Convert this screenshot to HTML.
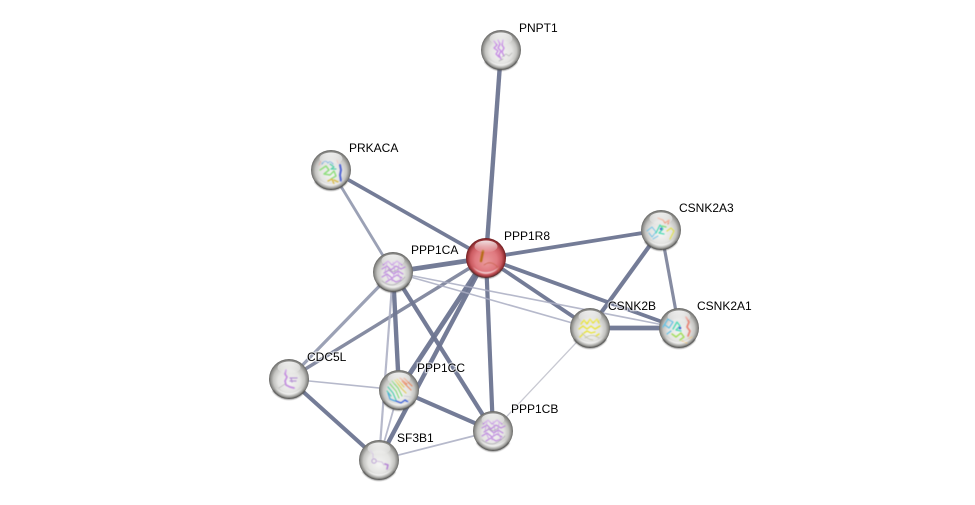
<!DOCTYPE html>
<html>
<head>
<meta charset="utf-8">
<style>
html,body{margin:0;padding:0;background:#fff;width:975px;height:505px;overflow:hidden}
svg{display:block}
text{font-family:"Liberation Sans",sans-serif;font-size:12px;fill:#000;paint-order:stroke;stroke:#fff;stroke-width:2.5px;stroke-opacity:.6}
.s{fill:none;stroke-linecap:round;stroke-linejoin:round}
</style>
</head>
<body>
<svg width="975" height="505" viewBox="0 0 975 505" xmlns="http://www.w3.org/2000/svg">
<defs>
<filter id="soft" x="-10%" y="-10%" width="120%" height="120%"><feGaussianBlur stdDeviation=".35"/></filter>
<filter id="soft2" x="-30%" y="-30%" width="160%" height="160%"><feGaussianBlur stdDeviation=".4"/></filter>
<radialGradient id="g" cx="50%" cy="50%" r="50%" fx="50%" fy="62%">
<stop offset="0" stop-color="#f4f4f3"/>
<stop offset=".55" stop-color="#e4e4e2"/>
<stop offset=".78" stop-color="#c4c4c1"/>
<stop offset=".92" stop-color="#8f8f8c"/>
<stop offset="1" stop-color="#666664"/>
</radialGradient>
<radialGradient id="r" cx="50%" cy="50%" r="50%" fx="50%" fy="62%">
<stop offset="0" stop-color="#ea9a9c"/>
<stop offset=".55" stop-color="#e07a80"/>
<stop offset=".78" stop-color="#cb5b61"/>
<stop offset=".92" stop-color="#9a3438"/>
<stop offset="1" stop-color="#6c1c1f"/>
</radialGradient>
<linearGradient id="h" x1="0" y1="0" x2="0" y2="1">
<stop offset="0" stop-color="#fff" stop-opacity=".85"/>
<stop offset="1" stop-color="#fff" stop-opacity=".03"/>
</linearGradient>
<g id="gloss">
<ellipse cx="0" cy="-11.5" rx="11.5" ry="6" fill="url(#h)"/>
<path d="M-13 9 A15.8 15.8 0 0 0 13 9 A19 19 0 0 1 -13 9Z" fill="#fff" opacity=".65" filter="url(#soft2)"/>
<path d="M-16 11.5 A19.4 19.4 0 0 0 16 11.5" fill="none" stroke="#3e3e3c" stroke-opacity=".5" stroke-width="1.8" filter="url(#soft2)"/>
</g>
<g id="n"><circle r="20" fill="url(#g)"/></g>
<g id="pp">
<g filter="url(#soft2)">
<path class="s" d="M-10 -7 L-5 -11 L-1 -7 L4 -11 L9 -7 M-11 -3 L-6 -6 L-2 -2 L3 -6 L8 -3 L12 -5 M-9 1 L-4 -2 L1 2 L5 -1 L10 2 M-11 5 L-6 2 L-1 6 L4 3 L9 6 M-7 10 L-2 7 L3 10 L8 8" stroke="#bd88de" stroke-width="1.2"/>
<path class="s" d="M-6 -9 L-8 0 L-4 8 M0 -10 L2 -1 L-1 9 M6 -9 L5 1 L8 8" stroke="#c8a2e0" stroke-width=".9"/>
<path class="s" d="M-11 9 Q-3 15 3 12 T12 5 M-5 -3 Q0 2 5 -3" stroke="#a9a6ae" stroke-width=".7"/>
</g>
</g>
</defs>

<!-- edges -->
<g fill="none" stroke-linecap="butt" filter="url(#soft)">
<g stroke="#6e7591" stroke-opacity=".95">
<line x1="501" y1="50" x2="486" y2="258" stroke-width="4.4"/>
<line x1="331" y1="170" x2="486" y2="258" stroke-width="3.7"/>
<line x1="486" y1="258" x2="393" y2="272" stroke-width="4.8"/>
<line x1="486" y1="258" x2="661" y2="230" stroke-width="3.8"/>
<line x1="486" y1="258" x2="590" y2="328" stroke-width="3.8"/>
<line x1="486" y1="258" x2="679" y2="328" stroke-width="3.8"/>
<line x1="486" y1="258" x2="399" y2="390" stroke-width="4.8"/>
<line x1="486" y1="258" x2="379" y2="460" stroke-width="4.4"/>
<line x1="486" y1="258" x2="493" y2="431" stroke-width="4.2"/>
<line x1="393" y1="272" x2="399" y2="390" stroke-width="4.4"/>
<line x1="393" y1="272" x2="493" y2="431" stroke-width="4.2"/>
<line x1="661" y1="230" x2="590" y2="328" stroke-width="4.2"/>
<line x1="590" y1="328" x2="679" y2="328" stroke-width="4.8"/>
<line x1="289" y1="379" x2="379" y2="460" stroke-width="4"/>
<line x1="399" y1="390" x2="493" y2="431" stroke-width="4.2"/>
</g>
<g stroke="#717892" stroke-opacity=".85">
<line x1="486" y1="258" x2="289" y2="379" stroke-width="3.4"/>
<line x1="661" y1="230" x2="679" y2="328" stroke-width="3.2"/>
</g>
<g stroke="#828aa3" stroke-opacity=".8">
<line x1="331" y1="170" x2="393" y2="272" stroke-width="2.8"/>
<line x1="393" y1="272" x2="289" y2="379" stroke-width="3.2"/>
</g>
<g stroke="#a9adc2" stroke-opacity=".85">
<line x1="393" y1="272" x2="379" y2="460" stroke-width="2.2"/>
<line x1="393" y1="272" x2="590" y2="328" stroke-width="1.6"/>
<line x1="393" y1="272" x2="679" y2="328" stroke-width="1.6"/>
<line x1="289" y1="379" x2="399" y2="390" stroke-width="1.6"/>
<line x1="399" y1="390" x2="379" y2="460" stroke-width="1.8"/>
<line x1="379" y1="460" x2="493" y2="431" stroke-width="1.8"/>
</g>
<line x1="590" y1="328" x2="493" y2="431" stroke="#c8c9d2" stroke-width="1.3"/>
</g>

<!-- PNPT1 -->
<g transform="translate(501 50)"><use href="#n"/>
<g filter="url(#soft2)">
<path class="s" d="M-7 -9 L-4 -5 L-7 -2 L-3 1 L-5 4 L-2 7 M-3 -10 L-1 -6 L-3 -2 L0 1 L-2 5 L0 9 M2 -10 L1 -5 L3 -2 L1 2 L3 6" stroke="#c78fe4" stroke-width="1.4"/>
<path class="s" d="M1 7 L5 4 L8 6 L11 3 M2 9 L-2 11" stroke="#adadaf" stroke-width=".7"/>
</g>
<use href="#gloss"/></g>

<!-- PRKACA -->
<g transform="translate(331 170)"><use href="#n"/>
<g filter="url(#soft2)">
<path class="s" d="M-9 -6 Q-6 -11 -3 -7 Q-1 -10 2 -6" stroke="#7fb0dc" stroke-width="1.1"/>
<path class="s" d="M-10 -9 L-12 -5 M6 -10 L7 -7" stroke="#eeb0a8" stroke-width=".8"/>
<path class="s" d="M-11 0 L-5 -4 L-2 0 L-7 4 L-1 5 L3 1 L5 6 L0 9" stroke="#8fde7e" stroke-width="1.5"/>
<path class="s" d="M-1 -6 L3 -3 L0 -1 L5 -1" stroke="#56cfa8" stroke-width="1.2"/>
<path class="s" d="M-3 11 L1 9 L3 14 M3 10 L7 12" stroke="#d8bc48" stroke-width="1.4"/>
<path class="s" d="M9 -5 L10 0 L9 5 L10 11" stroke="#4f63d4" stroke-width="2"/>
</g>
<use href="#gloss"/></g>

<!-- PPP1CA -->
<g transform="translate(393 272)"><use href="#n"/><use href="#pp"/><use href="#gloss"/></g>

<!-- PPP1R8 -->
<g transform="translate(486 258)"><circle r="20" fill="url(#r)"/>
<g filter="url(#soft2)">
<path class="s" d="M-3 -7 L-5 3" stroke="#b56c14" stroke-width="2.4"/>
<path class="s" d="M-2 7 Q3 3 8 6 T13 14" stroke="#c55f45" stroke-width=".7"/>
</g>
<use href="#gloss"/></g>

<!-- CSNK2A3 -->
<g transform="translate(661 230)"><use href="#n"/>
<g filter="url(#soft2)">
<path class="s" d="M-14 1 L-9 -3 L-5 2 L-9 7 L-12 3 M-8 9 L-3 6" stroke="#6fc2e6" stroke-width="1"/>
<path class="s" d="M-5 3 L-1 -5 L2 -1 L-2 3 L3 4" stroke="#4fdab6" stroke-width="1.3"/>
<path class="s" d="M-3 -12 L2 -10 L4 -7 L8 -10 L7 -6" stroke="#ea9578" stroke-width="1.3"/>
<path class="s" d="M1 -4 L5 -3" stroke="#7fdc76" stroke-width="1.3"/>
<path class="s" d="M6 1 L10 -2 L13 1 L11 5 L9 9" stroke="#dfe058" stroke-width="1.3"/>
<circle cx="0" cy="-1" r="1.2" fill="#4a58d0"/>
</g>
<use href="#gloss"/></g>

<!-- CSNK2B -->
<g transform="translate(590 328)"><use href="#n"/>
<g filter="url(#soft2)">
<path class="s" d="M-9 -4 L-6 -8 L-3 -4 L0 -9 L3 -5 L7 -9 L9 -5 M-11 1 L-7 -2 L-3 1 L1 -2 L5 1 L10 -2 M-6 5 L-3 3 L1 5 L5 4 M-10 9 L-7 6 M6 8 L9 6" stroke="#e8e33a" stroke-width="1.4"/>
<path class="s" d="M-5 10 Q2 5 9 10 M-8 5 Q-2 12 3 12" stroke="#c0c0a4" stroke-width=".8"/>
</g>
<use href="#gloss"/></g>

<!-- CSNK2A1 -->
<g transform="translate(679 328)"><use href="#n"/>
<g filter="url(#soft2)">
<path class="s" d="M-16 -1 L-11 -9 L-6 -6 L-10 0 L-14 -3 M-8 3 L-12 6" stroke="#62c2e6" stroke-width="1.2"/>
<path class="s" d="M-6 1 L-2 -6 L1 -2 L-3 2 L2 3" stroke="#4fdab6" stroke-width="1.4"/>
<path class="s" d="M-3 9 L2 5 L5 9 L1 12 M-7 6 L-3 9" stroke="#a4de5e" stroke-width="1.5"/>
<path class="s" d="M7 -11 L10 -6 L8 -1 L11 3 L9 8" stroke="#e88476" stroke-width="1.7"/>
<path class="s" d="M3 13 L8 15 M10 11 L13 9" stroke="#e8c078" stroke-width="1"/>
<circle cx="1" cy="0" r="1.3" fill="#4a58d0"/>
</g>
<use href="#gloss"/></g>

<!-- CDC5L -->
<g transform="translate(289 379)"><use href="#n"/>
<g filter="url(#soft2)">
<path class="s" d="M-3 -9 L-4 -5 L-2 -2 L-4 2 L-3 6 L1 8 L5 9" stroke="#c48fe0" stroke-width="1.7"/>
<path class="s" d="M1 -1 L8 -1 M1 2 L7 2 M2 -1 L3 3" stroke="#b795d4" stroke-width="1.3"/>
<path class="s" d="M-4 5 L-10 9" stroke="#adadad" stroke-width=".7"/>
</g>
<use href="#gloss"/></g>

<!-- PPP1CC -->
<g transform="translate(399 390)"><use href="#n"/>
<g filter="url(#soft2)">
<path class="s" d="M1 -12 L8 -6 M5 -12 L13 -4 M3 -9 L12 0" stroke="#e8855c" stroke-width="1.1"/>
<path class="s" d="M-2 -11 L5 -3 M-4 -10 L3 -1 L7 3" stroke="#e0cc5c" stroke-width="1.2"/>
<path class="s" d="M-7 -9 L-1 -2 L3 6 M-9 -6 L-3 1 L0 8" stroke="#86d97a" stroke-width="1.2"/>
<path class="s" d="M-11 -3 L-6 3 L-3 10 M-12 1 L-8 6" stroke="#4fd0ae" stroke-width="1.2"/>
<path class="s" d="M-11 3 L-9 9 L-4 11" stroke="#4fa4dc" stroke-width="1.3"/>
<path class="s" d="M-3 11 L2 13 L6 10 L9 12" stroke="#4162d8" stroke-width="1.4"/>
<path class="s" d="M5 6 L12 7" stroke="#c4c8d4" stroke-width=".7"/>
</g>
<use href="#gloss"/></g>

<!-- PPP1CB -->
<g transform="translate(493 431)"><use href="#n"/><use href="#pp"/><use href="#gloss"/></g>

<!-- SF3B1 -->
<g transform="translate(379 460)"><use href="#n"/>
<g filter="url(#soft2)">
<path class="s" d="M-9 -10 L-6 -6 L-6 -2" stroke="#d2bfe2" stroke-width=".8"/>
<circle cx="-5" cy="1" r="2.2" fill="none" stroke="#b99ed4" stroke-width=".9"/>
<path class="s" d="M-3 1 L3 2 L5 5" stroke="#ccb8dc" stroke-width=".8"/>
<path class="s" d="M6 4 L9 5 L8 9" stroke="#b585d4" stroke-width="1.6"/>
</g>
<use href="#gloss"/></g>

<!-- labels -->
<text x="519" y="32">PNPT1</text>
<text x="349" y="152">PRKACA</text>
<text x="504" y="240">PPP1R8</text>
<text x="411" y="254">PPP1CA</text>
<text x="679" y="212">CSNK2A3</text>
<text x="608" y="310">CSNK2B</text>
<text x="697" y="310">CSNK2A1</text>
<text x="307" y="361">CDC5L</text>
<text x="417" y="372">PPP1CC</text>
<text x="511" y="413">PPP1CB</text>
<text x="397" y="442">SF3B1</text>
</svg>
</body>
</html>
